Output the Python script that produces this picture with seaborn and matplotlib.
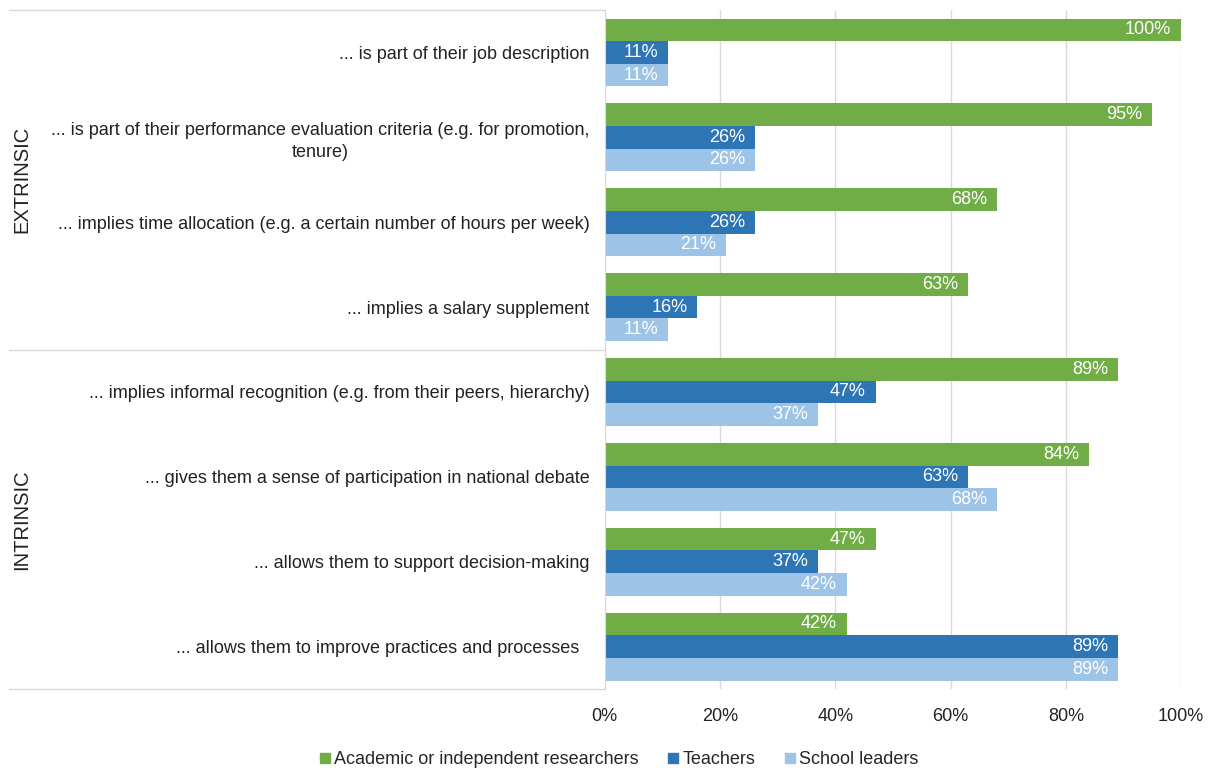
import matplotlib
matplotlib.use("Agg")
import matplotlib.pyplot as plt
from matplotlib.lines import Line2D
import seaborn as sns
import pandas as pd

# Chart data
statements = [
    "... is part of their job description",
    "... is part of their performance evaluation criteria (e.g. for promotion,\ntenure)",
    "... implies time allocation (e.g. a certain number of hours per week)",
    "... implies a salary supplement",
    "... implies informal recognition (e.g. from their peers, hierarchy)",
    "... gives them a sense of participation in national debate",
    "... allows them to support decision-making",
    "... allows them to improve practices and processes  ",
]
groups = ["Academic or independent researchers", "Teachers", "School leaders"]
researchers = [100, 95, 68, 63, 89, 84, 47, 42]
teachers = [11, 26, 26, 16, 47, 63, 37, 89]
school_leaders = [11, 26, 21, 11, 37, 68, 42, 89]
group_titles = ["EXTRINSIC", "INTRINSIC"]
group_sizes = [4, 4]
x_ticks = [0, 20, 40, 60, 80, 100]

colors = ["#70AD47", "#2E75B6", "#9DC3E6"]

rows = []
for name, vals in zip(groups, [researchers, teachers, school_leaders]):
    for s, v in zip(statements, vals):
        rows.append({"statement": s, "group": name, "value": v})
df = pd.DataFrame(rows)

sns.set_style("white")
plt.rcParams["font.family"] = ["Liberation Sans", "DejaVu Sans"]

fig = plt.figure(figsize=(12.12, 7.72), dpi=100)
ax = fig.add_axes([0.499, 0.1075, 0.4755, 0.8795])

sns.barplot(data=df, y="statement", x="value", hue="group", orient="h",
            palette=colors, saturation=1, width=0.8, linewidth=0,
            order=statements, hue_order=groups, ax=ax, legend=False)

ax.set_xlim(0, 100)
ax.set_ylim(len(statements) - 0.5, -0.5)
ax.set_xticks(x_ticks)
ax.set_xticklabels([f"{t}%" for t in x_ticks], fontsize=13)
ax.tick_params(axis="x", length=0, pad=14, colors="#222222")
ax.tick_params(axis="y", length=0, pad=11, labelsize=13, colors="#222222")
for lbl in ax.get_yticklabels():
    lbl.set_multialignment("center")
    lbl.set_linespacing(1.35)
ax.set_xlabel("")
ax.set_ylabel("")
ax.xaxis.grid(True, color="#d9d9d9", linewidth=1)
ax.set_axisbelow(True)
for side in ["top", "right", "bottom"]:
    ax.spines[side].set_visible(False)
ax.spines["left"].set_color("#d9d9d9")

# value labels inside bar ends
for cont in ax.containers:
    for p in cont:
        w = p.get_width()
        ax.annotate(f"{w:.0f}%", xy=(w, p.get_y() + p.get_height() / 2),
                    xytext=(-7, 0), textcoords="offset points",
                    ha="right", va="center", color="white", fontsize=13)

# group separators and titles
trans = ax.get_yaxis_transform()
bounds = [-0.5]
for n in group_sizes:
    bounds.append(bounds[-1] + n)
for b in bounds:
    ax.plot([-1.033, 0], [b, b], color="#d9d9d9", linewidth=1,
            transform=trans, clip_on=False)
for title, lo, hi in zip(group_titles, bounds[:-1], bounds[1:]):
    ax.text(-1.012, (lo + hi) / 2, title, transform=trans, rotation=90,
            ha="center", va="center", fontsize=14.5, color="#222222")

handles = [Line2D([], [], marker="s", linestyle="", markersize=7,
                  markerfacecolor=c, markeredgecolor=c) for c in colors]
fig.legend(handles, groups, loc="center", bbox_to_anchor=(0.51, 0.016),
           ncol=3, frameon=False, fontsize=13, handletextpad=0.1,
           columnspacing=1.5, handlelength=0.8)

fig.savefig("out.png", dpi=100)
